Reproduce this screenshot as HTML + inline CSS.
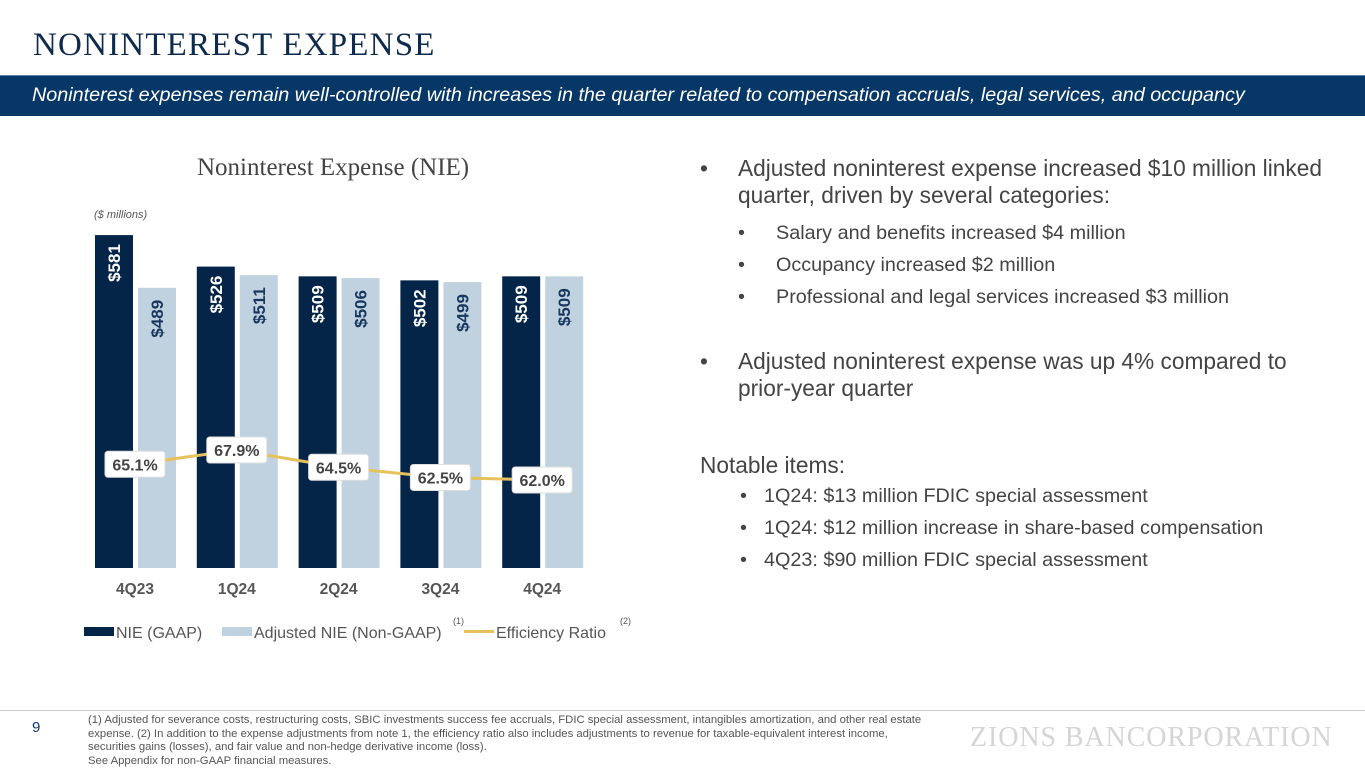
<!DOCTYPE html>
<html><head><meta charset="utf-8"><style>
body{margin:0;width:1365px;height:768px;overflow:hidden;background:#fff;font-family:"Liberation Sans",sans-serif;position:relative}
.a{position:absolute;white-space:nowrap}
</style></head><body>
<div class="a" style="left:33px;top:27px;font-family:'Liberation Serif',serif;font-size:33px;color:#0e2a4d;letter-spacing:1.2px">NONINTEREST EXPENSE</div>
<div class="a" style="left:0;top:75px;width:1365px;height:40px;background:#063767;border-top:1px solid #5a7fa5"></div>
<div class="a" style="left:32px;top:84px;font-size:19.8px;font-style:italic;color:#fff">Noninterest expenses remain well-controlled with increases in the quarter related to compensation accruals, legal services, and occupancy</div>
<div class="a" style="left:197px;top:154px;font-family:'Liberation Serif',serif;font-size:25px;color:#444">Noninterest Expense (NIE)</div>
<div class="a" style="left:94px;top:209px;font-size:11px;font-style:italic;color:#555">($ millions)</div>
<svg class="a" id="chart" style="left:0;top:0" width="700" height="700"></svg>
<div class="a" style="left:700px;top:155px;font-size:22.7px;color:#444;line-height:27px">
<div style="position:absolute;left:0;top:0">•</div><div style="position:absolute;left:38px;top:0">Adjusted noninterest expense increased $10 million linked<br>quarter, driven by several categories:</div>
<div style="position:absolute;left:38px;top:65px;font-size:19.8px">•</div><div style="position:absolute;left:76px;top:65px;font-size:19.8px">Salary and benefits increased $4 million</div>
<div style="position:absolute;left:38px;top:97px;font-size:19.8px">•</div><div style="position:absolute;left:76px;top:97px;font-size:19.8px">Occupancy increased $2 million</div>
<div style="position:absolute;left:38px;top:129px;font-size:19.8px">•</div><div style="position:absolute;left:76px;top:129px;font-size:19.8px">Professional and legal services increased $3 million</div>
<div style="position:absolute;left:0;top:193px">•</div><div style="position:absolute;left:38px;top:193px">Adjusted noninterest expense was up 4% compared to<br>prior-year quarter</div>
<div style="position:absolute;left:0;top:297px">Notable items:</div>
<div style="position:absolute;left:40px;top:328px;font-size:19.8px">•</div><div style="position:absolute;left:64px;top:328px;font-size:19.8px">1Q24: $13 million FDIC special assessment</div>
<div style="position:absolute;left:40px;top:360px;font-size:19.8px">•</div><div style="position:absolute;left:64px;top:360px;font-size:19.8px">1Q24: $12 million increase in share-based compensation</div>
<div style="position:absolute;left:40px;top:392px;font-size:19.8px">•</div><div style="position:absolute;left:64px;top:392px;font-size:19.8px">4Q23: $90 million FDIC special assessment</div>
</div>
<div class="a" style="left:0;top:710px;width:1365px;height:1px;background:#ccc"></div>
<div class="a" style="left:32px;top:719px;font-size:15px;color:#0e3a6a">9</div>
<div class="a" style="left:88px;top:714px;font-size:11.3px;color:#555;line-height:13.5px">(1) Adjusted for severance costs, restructuring costs, SBIC investments success fee accruals, FDIC special assessment, intangibles amortization, and other real estate<br>expense. (2) In addition to the expense adjustments from note 1, the efficiency ratio also includes adjustments to revenue for taxable-equivalent interest income,<br>securities gains (losses), and fair value and non-hedge derivative income (loss).<br>See Appendix for non-GAAP financial measures.</div>
<div class="a" style="left:970px;top:722px;font-family:'Liberation Serif',serif;font-size:28px;color:#d5d5d5;letter-spacing:0.9px">ZIONS BANCORPORATION</div>
<script>
const categories=["4Q23","1Q24","2Q24","3Q24","4Q24"];
const gaapValues=[581,526,509,502,509];
const adjValues=[489,511,506,499,509];
const effRatio=[65.1,67.9,64.5,62.5,62.0];
const NS="http://www.w3.org/2000/svg";
const svg=document.getElementById("chart");
const base=568, k=0.573;
const yBar=v=>base-v*k;
const xGroup=i=>95+i*101.8;
const yEff=v=>480-(v-62)*5.08;
function mk(t,a){const e=document.createElementNS(NS,t);for(const n in a)e.setAttribute(n,a[n]);svg.appendChild(e);return e;}
function txt(x,y,s,a){const e=mk("text",Object.assign({x:x,y:y,"font-family":"Liberation Sans, sans-serif"},a));e.textContent=s;return e;}
categories.forEach((c,i)=>{
  const x=xGroup(i);
  const b1=mk("rect",{x:x,y:yBar(gaapValues[i]),width:38,height:gaapValues[i]*k,fill:"#052548"});
  
  
  const b2=mk("rect",{x:x+43,y:yBar(adjValues[i]),width:38,height:adjValues[i]*k,fill:"#c0d2df"});
  
  
  const l1=txt(0,0,"$"+gaapValues[i],{transform:`translate(${x+25},${yBar(gaapValues[i])+9}) rotate(-90)`,"text-anchor":"end","font-size":17,"font-weight":"bold",fill:"#fff"});
  
  
  const l2=txt(0,0,"$"+adjValues[i],{transform:`translate(${x+68},${yBar(adjValues[i])+12}) rotate(-90)`,"text-anchor":"end","font-size":17,"font-weight":"bold",fill:"#17375e"});
  
  
  const cl=txt(x+40,594,c,{"text-anchor":"middle","font-size":15.5,"font-weight":"bold",fill:"#555"});
  
  
});
const pts=effRatio.map((v,i)=>(xGroup(i)+40)+","+yEff(v)).join(" ");
const line=mk("polyline",{points:pts,fill:"none",stroke:"#e6c15c","stroke-width":3});


effRatio.forEach((v,i)=>{
  const cx=xGroup(i)+40, cy=yEff(v);
  const r=mk("rect",{x:cx-30,y:cy-13,width:60,height:26,rx:3,fill:"#fff",stroke:"#ddd"});
  
  
  const t=txt(cx,cy+6,v.toFixed(1)+"%",{"text-anchor":"middle","font-size":16,"font-weight":"bold",fill:"#444"});
  
  
});
const lg=[[84,"#052548","NIE (GAAP)","rect"],[222,"#c0d2df","Adjusted NIE (Non-GAAP)","rect"],[464,"#e6c15c","Efficiency Ratio","line"]];
lg.forEach(d=>{
  let m;
  if(d[3]=="rect")m=mk("rect",{x:d[0],y:627,width:30,height:9,fill:d[1]});
  else m=mk("rect",{x:d[0],y:630,width:30,height:3,fill:d[1]});
  
  
  const t=txt(d[0]+32,638,d[2],{"font-size":16,fill:"#555"});
  
  
});
const s1=txt(453,624,"(1)",{"font-size":9,fill:"#555"});


const s2=txt(620,624,"(2)",{"font-size":9,fill:"#555"});


</script>
</body></html>
